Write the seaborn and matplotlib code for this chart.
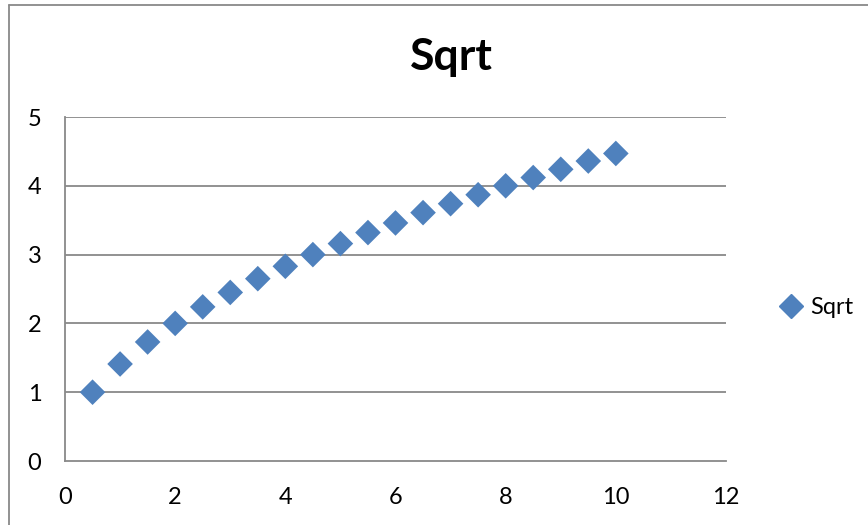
import matplotlib
matplotlib.use("Agg")
import matplotlib.pyplot as plt
import seaborn as sns
import pandas as pd
from matplotlib.lines import Line2D

# data
x_vals = [0.5, 1, 1.5, 2, 2.5, 3, 3.5, 4, 4.5, 5, 5.5, 6, 6.5, 7, 7.5, 8, 8.5, 9, 9.5, 10]
y_vals = [1.00, 1.41, 1.73, 2.00, 2.24, 2.45, 2.65, 2.83, 3.00, 3.16,
          3.32, 3.46, 3.61, 3.74, 3.87, 4.00, 4.12, 4.24, 4.36, 4.47]
series_name = "Sqrt"
x_ticks = [0, 2, 4, 6, 8, 10, 12]
y_ticks = [0, 1, 2, 3, 4, 5]

df = pd.DataFrame({"x": x_vals, "y": y_vals})

sns.set_style("white")
plt.rcParams["font.family"] = ["Lato", "DejaVu Sans"]
plt.rcParams["text.color"] = "black"

blue = "#4F81BD"
grey = "#898989"

fig = plt.figure(figsize=(8.68, 5.25), dpi=100)
ax = fig.add_axes([65 / 868, 1 - 461 / 525, (726 - 65) / 868, (461 - 117) / 525])

sns.scatterplot(data=df, x="x", y="y", marker="D", s=170, color=blue,
                edgecolor="none", linewidth=0, ax=ax, zorder=3, legend=False)

ax.set_xlim(0, 12)
ax.set_ylim(0, 5)
ax.set_xticks(x_ticks)
ax.set_yticks(y_ticks)
ax.set_xlabel("")
ax.set_ylabel("")

# horizontal gridlines only
for yv in y_ticks[1:]:
    ax.axhline(yv, color=grey, lw=1.3, zorder=1)

for side in ["top", "right"]:
    ax.spines[side].set_visible(False)
for side in ["left", "bottom"]:
    ax.spines[side].set_color(grey)
    ax.spines[side].set_linewidth(1.3)

ax.tick_params(axis="both", direction="out", length=6, width=1.3, color=grey,
               labelsize=17, labelcolor="black", pad=11)
ax.tick_params(axis="x", pad=13)

fig.text(451 / 868, 1 - 57 / 525, series_name, ha="center", va="center",
         fontsize=32, fontweight="bold", color="black")

handle = Line2D([], [], marker="D", color=blue, linestyle="none", markersize=12)
fig.legend([handle], [series_name], loc="center left",
           bbox_to_anchor=(758 / 868, 1 - 308 / 525), frameon=False,
           fontsize=17, handletextpad=0.3, handlelength=1.0, labelcolor="black")

# chart area border (only top and left visible in the original crop)
fig.add_artist(Line2D([9 / 868, 9 / 868], [0, 1 - 5 / 525], color=grey, lw=1.3,
                      transform=fig.transFigure))
fig.add_artist(Line2D([9 / 868, 1], [1 - 5 / 525, 1 - 5 / 525], color=grey, lw=1.3,
                      transform=fig.transFigure))

fig.savefig("out.png", dpi=100)
